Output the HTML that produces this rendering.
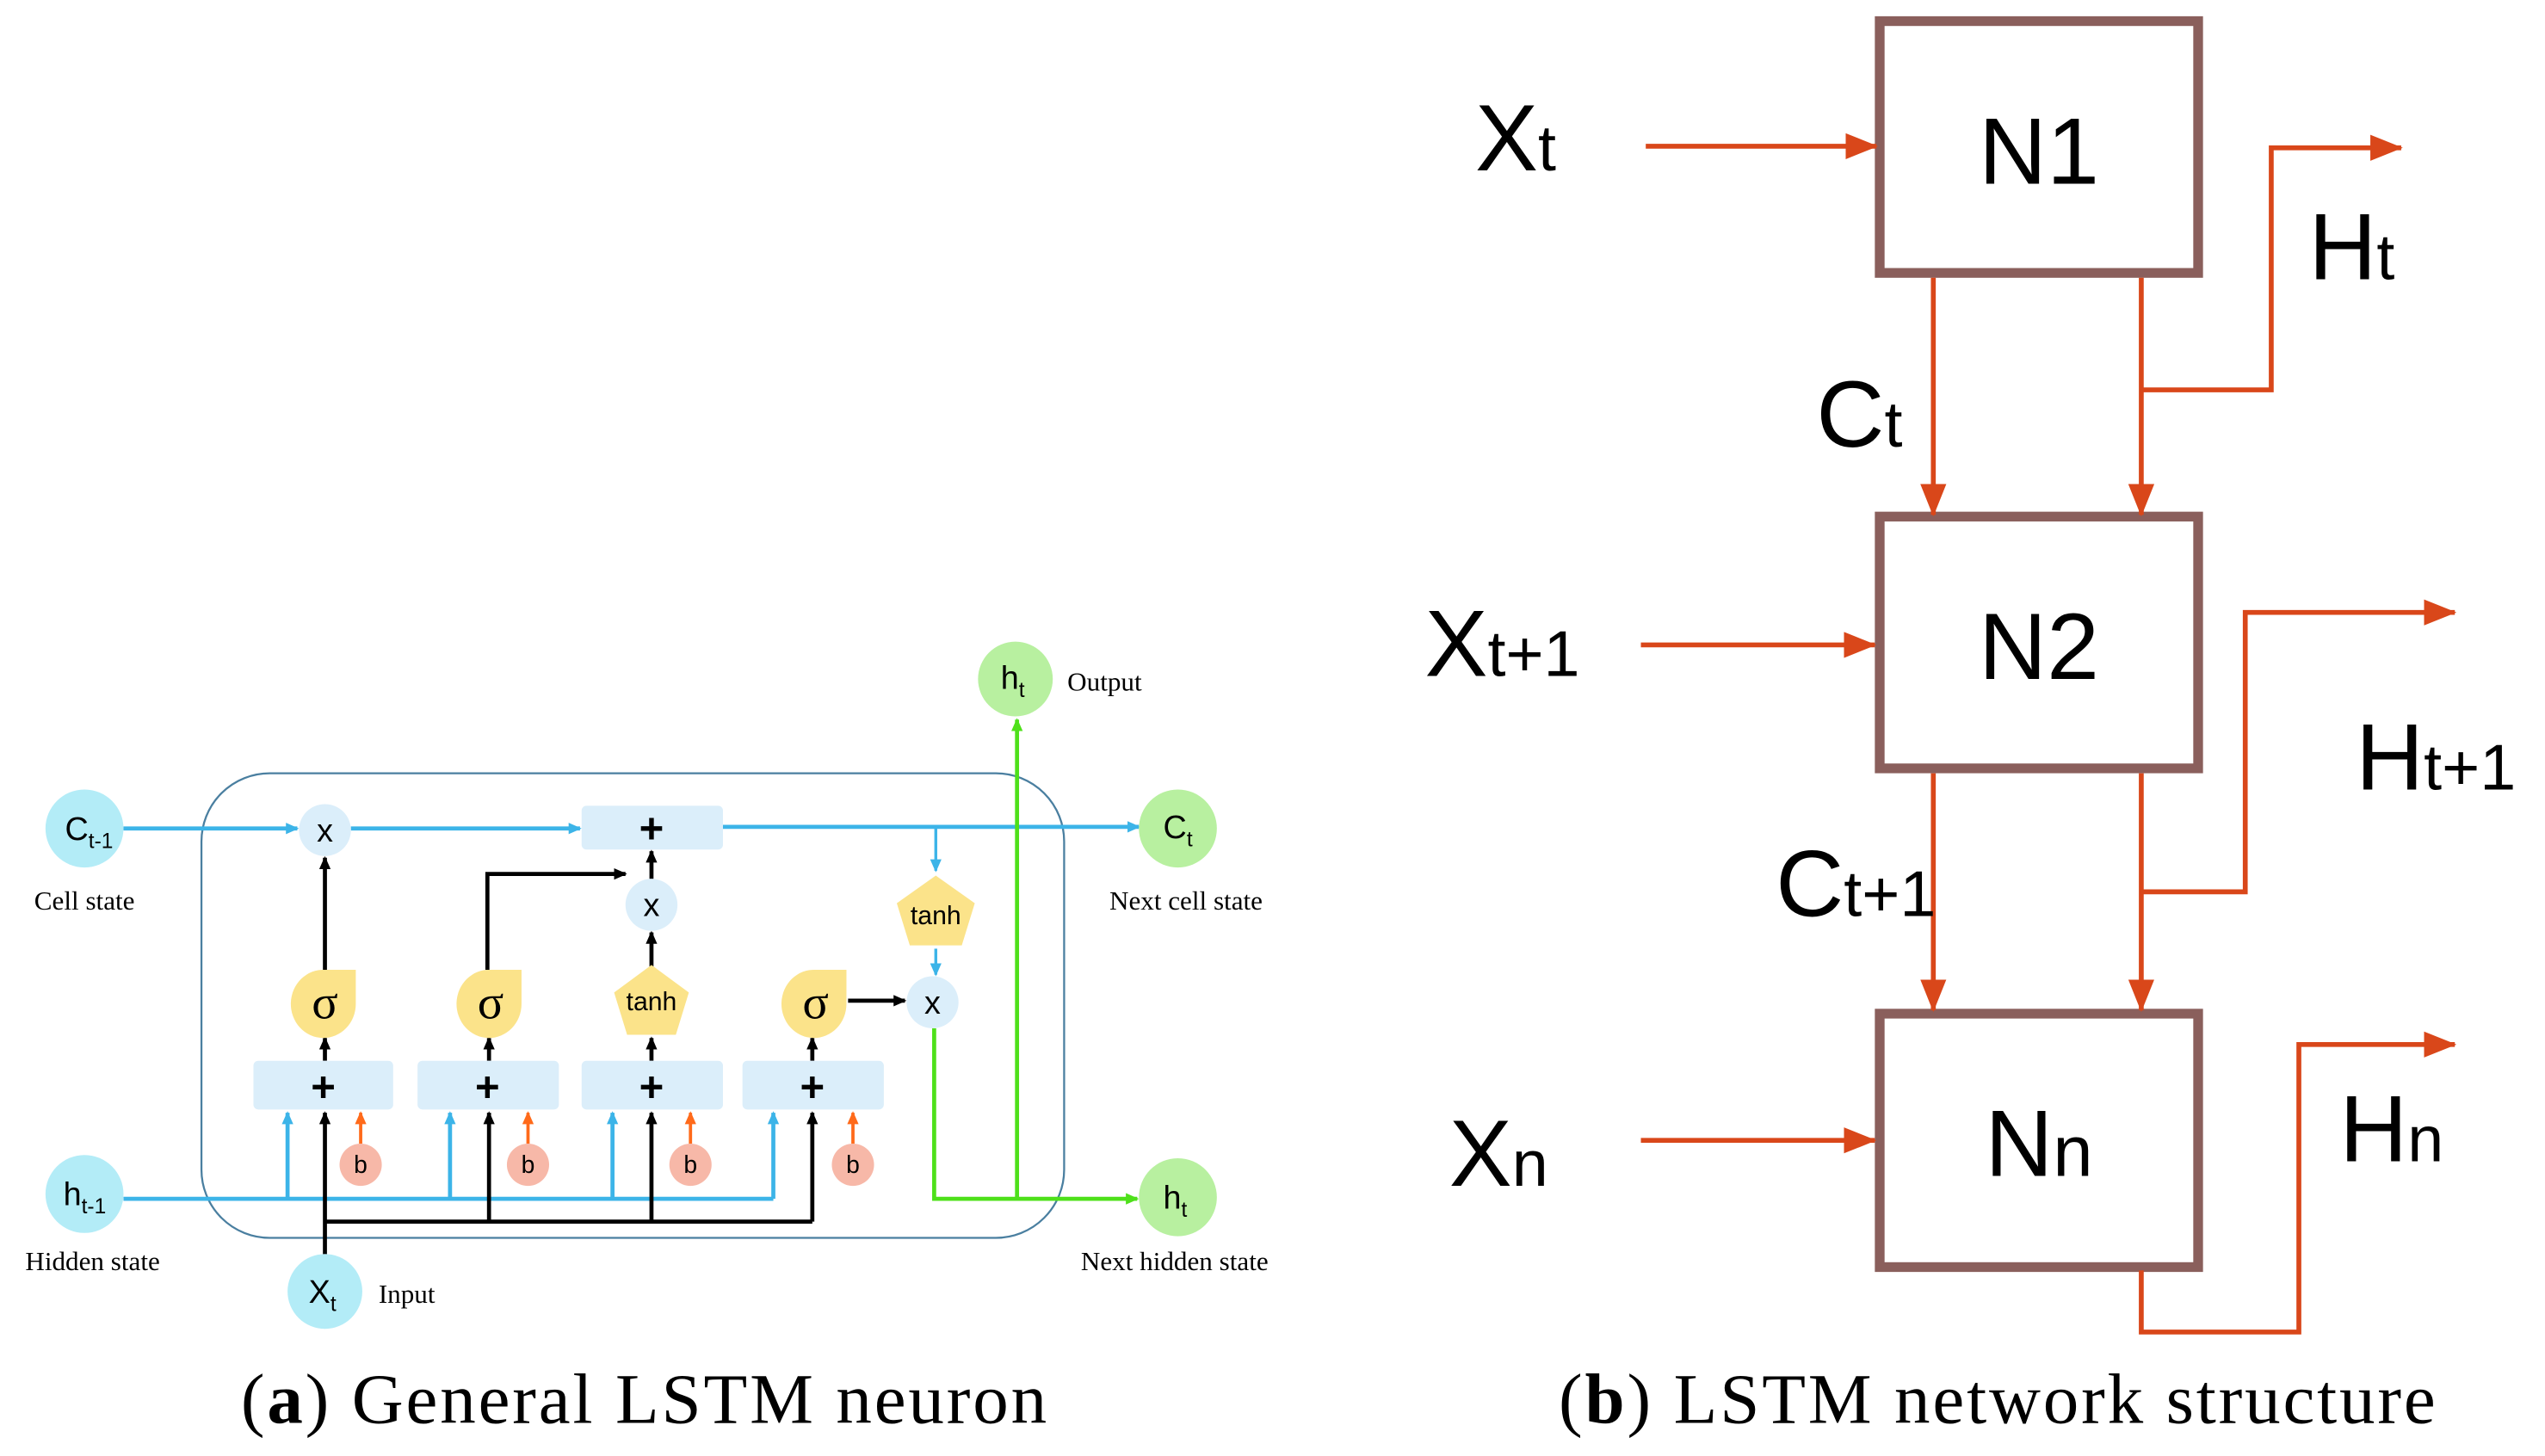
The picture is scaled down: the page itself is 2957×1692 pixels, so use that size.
<!DOCTYPE html>
<html><head><meta charset="utf-8"><style>
html,body{margin:0;padding:0;background:#fff;}
svg{display:block;}
</style></head><body>
<svg width="2957" height="1692" viewBox="0 0 1566.5 896.3" preserveAspectRatio="none" xmlns="http://www.w3.org/2000/svg">
<defs>
<marker id="ab" markerWidth="8" markerHeight="8" refX="7" refY="4" orient="auto" markerUnits="userSpaceOnUse"><path d="M0,0.5 L8,4 L0,7.5 z" fill="#3cb4e8"/></marker>
<marker id="ak" markerWidth="8" markerHeight="8" refX="7" refY="4" orient="auto" markerUnits="userSpaceOnUse"><path d="M0,0.5 L8,4 L0,7.5 z" fill="#000"/></marker>
<marker id="ao" markerWidth="8" markerHeight="8" refX="7" refY="4" orient="auto" markerUnits="userSpaceOnUse"><path d="M0,0.5 L8,4 L0,7.5 z" fill="#ff6a1a"/></marker>
<marker id="ag" markerWidth="8" markerHeight="8" refX="7" refY="4" orient="auto" markerUnits="userSpaceOnUse"><path d="M0,0.5 L8,4 L0,7.5 z" fill="#4ee01a"/></marker>
<marker id="ar" markerWidth="20" markerHeight="16" refX="19" refY="8" orient="auto" markerUnits="userSpaceOnUse"><path d="M0,0 L20,8 L0,16 z" fill="#d9471a"/></marker>
<g id="sig"><path d="M0,-21 L19,-21 L19,0 A20,21 0 1 1 0,-21 z" fill="#fbe38a"/></g>
</defs>

<rect x="124" y="476" width="531" height="286" rx="42" fill="none" stroke="#4a7fa0" stroke-width="1.2"/>

<line x1="76" y1="510" x2="183" y2="510" stroke="#3cb4e8" stroke-width="2.5" marker-end="url(#ab)"/>
<line x1="216" y1="510" x2="357" y2="510" stroke="#3cb4e8" stroke-width="2.5" marker-end="url(#ab)"/>
<line x1="445" y1="509" x2="701" y2="509" stroke="#3cb4e8" stroke-width="2.5" marker-end="url(#ab)"/>
<line x1="576" y1="509" x2="576" y2="536" stroke="#3cb4e8" stroke-width="1.8" marker-end="url(#ab)"/>
<line x1="576" y1="584" x2="576" y2="600" stroke="#3cb4e8" stroke-width="1.8" marker-end="url(#ab)"/>

<path d="M76,738 H476" stroke="#3cb4e8" stroke-width="2.5" fill="none"/>
<g stroke="#3cb4e8" stroke-width="2.5" fill="none">
<line x1="177" y1="738" x2="177" y2="685" marker-end="url(#ab)"/>
<line x1="277" y1="738" x2="277" y2="685" marker-end="url(#ab)"/>
<line x1="377" y1="738" x2="377" y2="685" marker-end="url(#ab)"/>
<line x1="476" y1="738" x2="476" y2="685" marker-end="url(#ab)"/>
</g>

<g stroke="#000" stroke-width="2.5" fill="none">
<line x1="200" y1="772" x2="200" y2="685" marker-end="url(#ak)"/>
<path d="M200,752 H500"/>
<line x1="301" y1="752" x2="301" y2="685" marker-end="url(#ak)"/>
<line x1="401" y1="752" x2="401" y2="685" marker-end="url(#ak)"/>
<line x1="500" y1="752" x2="500" y2="685" marker-end="url(#ak)"/>
<line x1="200" y1="653" x2="200" y2="639" marker-end="url(#ak)"/>
<line x1="301" y1="653" x2="301" y2="639" marker-end="url(#ak)"/>
<line x1="401" y1="653" x2="401" y2="639" marker-end="url(#ak)"/>
<line x1="500" y1="653" x2="500" y2="639" marker-end="url(#ak)"/>
<line x1="200" y1="597" x2="200" y2="528" marker-end="url(#ak)"/>
<path d="M300,597 V538 H385" marker-end="url(#ak)"/>
<line x1="401" y1="595" x2="401" y2="574" marker-end="url(#ak)"/>
<line x1="401" y1="541" x2="401" y2="524" marker-end="url(#ak)"/>
<line x1="522" y1="616" x2="557" y2="616" marker-end="url(#ak)"/>
</g>

<g stroke="#ff6a1a" stroke-width="2" fill="none">
<line x1="222" y1="704" x2="222" y2="685" marker-end="url(#ao)"/>
<line x1="325" y1="704" x2="325" y2="685" marker-end="url(#ao)"/>
<line x1="425" y1="704" x2="425" y2="685" marker-end="url(#ao)"/>
<line x1="525" y1="704" x2="525" y2="685" marker-end="url(#ao)"/>
</g>

<g stroke="#4ee01a" stroke-width="2.5" fill="none">
<path d="M575,633 V738 H700" marker-end="url(#ag)"/>
<line x1="626" y1="738" x2="626" y2="443" marker-end="url(#ag)"/>
</g>

<g fill="#dbeefa">
<rect x="358" y="496" width="87" height="27" rx="3"/>
<rect x="156" y="653" width="86" height="30" rx="3"/>
<rect x="257" y="653" width="87" height="30" rx="3"/>
<rect x="358" y="653" width="87" height="30" rx="3"/>
<rect x="457" y="653" width="87" height="30" rx="3"/>
<circle cx="200" cy="511" r="16"/>
<circle cx="401" cy="557" r="16"/>
<circle cx="574" cy="617" r="16"/>
</g>
<g font-family="Liberation Sans, sans-serif" font-size="26" text-anchor="middle" font-weight="bold">
<text x="401" y="519">+</text>
<text x="199" y="678">+</text>
<text x="300" y="678">+</text>
<text x="401" y="678">+</text>
<text x="500" y="678">+</text>
</g>
<g font-family="Liberation Sans, sans-serif" font-size="20" text-anchor="middle">
<text x="200" y="518">x</text>
<text x="401" y="564">x</text>
<text x="574" y="624">x</text>
</g>

<use href="#sig" x="200" y="618"/>
<use href="#sig" x="302" y="618"/>
<use href="#sig" x="502" y="618"/>
<g font-family="Liberation Serif, serif" font-size="30" text-anchor="middle">
<text x="200" y="627">σ</text>
<text x="302" y="627">σ</text>
<text x="502" y="627">σ</text>
</g>
<polygon points="401,594 424,611 416,637 386,637 378,611" fill="#fbe38a"/>
<polygon points="576,539 600,556 592,582 560,582 552,556" fill="#fbe38a"/>
<g font-family="Liberation Sans, sans-serif" font-size="16" text-anchor="middle">
<text x="401" y="622">tanh</text>
<text x="576" y="569">tanh</text>
</g>

<g fill="#f7b8a8">
<circle cx="222" cy="717" r="13"/><circle cx="325" cy="717" r="13"/>
<circle cx="425" cy="717" r="13"/><circle cx="525" cy="717" r="13"/>
</g>
<g font-family="Liberation Sans, sans-serif" font-size="15" text-anchor="middle">
<text x="222" y="722">b</text><text x="325" y="722">b</text><text x="425" y="722">b</text><text x="525" y="722">b</text>
</g>

<circle cx="52" cy="510" r="24" fill="#b3ecf7"/>
<circle cx="52" cy="735" r="24" fill="#b3ecf7"/>
<circle cx="200" cy="795" r="23" fill="#b3ecf7"/>
<circle cx="625" cy="418" r="23" fill="#b8f0a0"/>
<circle cx="725" cy="510" r="24" fill="#b8f0a0"/>
<circle cx="725" cy="737" r="24" fill="#b8f0a0"/>
<g font-family="Liberation Sans, sans-serif" font-size="20">
<text x="40" y="517">C<tspan font-size="13" dy="5">t-1</tspan></text>
<text x="39" y="742">h<tspan font-size="13" dy="5">t-1</tspan></text>
<text x="190" y="802">X<tspan font-size="13" dy="5">t</tspan></text>
<text x="616" y="424">h<tspan font-size="13" dy="5">t</tspan></text>
<text x="716" y="516">C<tspan font-size="13" dy="5">t</tspan></text>
<text x="716" y="744">h<tspan font-size="13" dy="5">t</tspan></text>
</g>
<g font-family="Liberation Serif, serif" font-size="16.5">
<text x="52" y="560" text-anchor="middle">Cell state</text>
<text x="57" y="782" text-anchor="middle">Hidden state</text>
<text x="233" y="802">Input</text>
<text x="657" y="425">Output</text>
<text x="730" y="560" text-anchor="middle">Next cell state</text>
<text x="723" y="782" text-anchor="middle">Next hidden state</text>
</g>

<g fill="none" stroke="#8a5f5c" stroke-width="6">
<rect x="1157" y="13" width="196" height="155"/>
<rect x="1157" y="318" width="196" height="155"/>
<rect x="1157" y="624" width="196" height="156"/>
</g>
<g stroke="#d9471a" stroke-width="3" fill="none">
<line x1="1013" y1="90" x2="1155" y2="90" marker-end="url(#ar)"/>
<line x1="1010" y1="397" x2="1154" y2="397" marker-end="url(#ar)"/>
<line x1="1010" y1="702" x2="1154" y2="702" marker-end="url(#ar)"/>
<line x1="1190" y1="171" x2="1190" y2="317" marker-end="url(#ar)"/>
<line x1="1318" y1="171" x2="1318" y2="317" marker-end="url(#ar)"/>
<line x1="1190" y1="476" x2="1190" y2="622" marker-end="url(#ar)"/>
<line x1="1318" y1="476" x2="1318" y2="622" marker-end="url(#ar)"/>
<path d="M1318,240 H1398 V91 H1478" marker-end="url(#ar)"/>
<path d="M1318,549 H1382 V377 H1511" marker-end="url(#ar)"/>
<path d="M1318,782 V820 H1415 V643 H1511" marker-end="url(#ar)"/>
</g>
<g font-family="Liberation Sans, sans-serif" font-size="58" text-anchor="middle">
<text x="1255" y="113">N1</text>
<text x="1255" y="418">N2</text>
<text x="1255" y="724">N<tspan font-size="44">n</tspan></text>
</g>
<g font-family="Liberation Sans, sans-serif" font-size="58">
<text x="908" y="105">X<tspan font-size="40">t</tspan></text>
<text x="877" y="416">X<tspan font-size="40">t+1</tspan></text>
<text x="892" y="730">X<tspan font-size="40">n</tspan></text>
<text x="1118" y="275">C<tspan font-size="40">t</tspan></text>
<text x="1093" y="564">C<tspan font-size="40">t+1</tspan></text>
<text x="1421" y="172">H<tspan font-size="40">t</tspan></text>
<text x="1450" y="486">H<tspan font-size="40">t+1</tspan></text>
<text x="1440" y="715">H<tspan font-size="40">n</tspan></text>
</g>

<g font-family="Liberation Serif, serif" font-size="44" text-anchor="middle" letter-spacing="1.5">
<text x="397" y="876">(<tspan font-weight="bold">a</tspan>) General LSTM neuron</text>
<text x="1230" y="876">(<tspan font-weight="bold">b</tspan>) LSTM network structure</text>
</g>
</svg>
</body></html>
